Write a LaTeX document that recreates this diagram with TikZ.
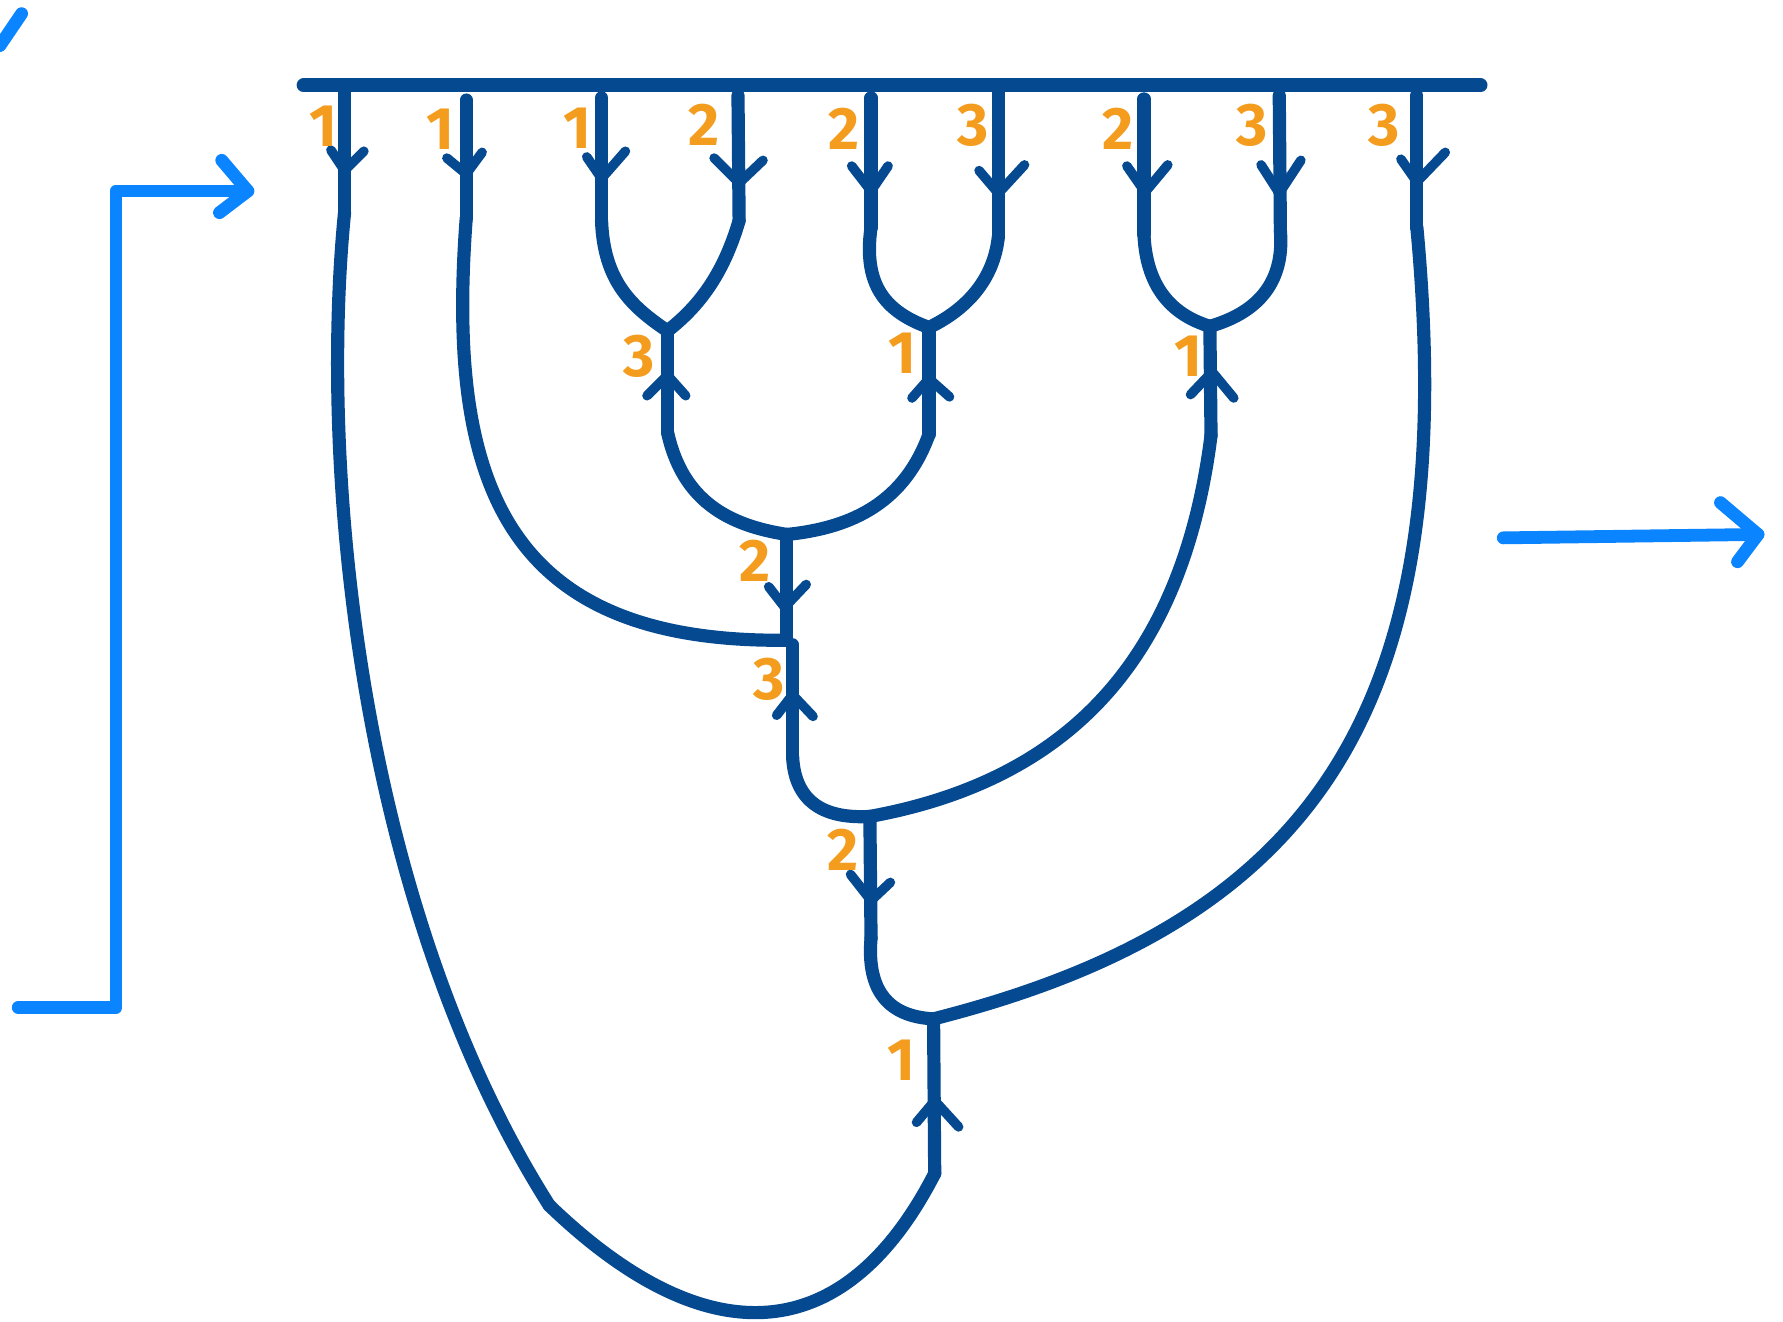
\documentclass[tikz,border=0pt]{standalone}
\usepackage{fontspec}
\setmainfont{Fira Sans}
\definecolor{dblue}{HTML}{054A91}
\definecolor{lblue}{HTML}{0A84FF}
\definecolor{lorange}{HTML}{F39C1E}
\begin{document}
\begin{tikzpicture}[x=0.1mm,y=-0.1mm,
 strand/.style={dblue,line width=3.3pt,line cap=round,line join=round},
 bar/.style={dblue,line width=3.5pt,line cap=round},
 chev/.style={dblue,line width=2.4pt,line cap=round,line join=round},
 flow/.style={lblue,line width=3.2pt,line cap=round,line join=round},
 lab/.style={lorange,font=\fontsize{15}{15}\selectfont\bfseries,inner sep=0pt}]
\useasboundingbox (0,0) rectangle (1568,1162);
% top bar
\coordinate (barL) at (267,75); \coordinate (barR) at (1302,75);
\draw[bar] (barL) -- (barR);
% top strands
\coordinate (t1) at (303,78);  \coordinate (b1) at (303,187);
\coordinate (t2) at (410,88);  \coordinate (b2) at (410,192);
\coordinate (t3) at (529,86);  \coordinate (b3) at (529,194);
\coordinate (t4) at (649,84);  \coordinate (b4) at (650,194);
\coordinate (t5) at (766,86);  \coordinate (b5) at (766,200);
\coordinate (t6) at (878,78);  \coordinate (b6) at (878,208);
\coordinate (t7) at (1006,87); \coordinate (b7) at (1006,206);
\coordinate (t8) at (1125,84); \coordinate (b8) at (1126,203);
\coordinate (t9) at (1246,84); \coordinate (b9) at (1246,200);
\foreach \i in {1,...,9} {\draw[strand] (t\i) -- (b\i);}
% chevrons on top strands (pointing down)
\draw[chev] (291,132) -- (303,150) -- (320,133);
\draw[chev] (393,139) -- (410,153) -- (424,134);
\draw[chev] (516,138) -- (529,157) -- (550,133);
\draw[chev] (628,139) -- (650,161) -- (671,141);
\draw[chev] (749,146) -- (766,168) -- (781,146);
\draw[chev] (861,150) -- (878,170) -- (901,145);
\draw[chev] (991,146) -- (1007,169) -- (1027,145);
\draw[chev] (1109,145) -- (1125,170) -- (1144,141);
\draw[chev] (1232,140) -- (1246,160) -- (1271,134);
% labels on top strands
\node[lab] (l1) at (284,111) {1};
\node[lab] (l2) at (387,114) {1};
\node[lab] (l3) at (508,113) {1};
\node[lab] (l4) at (619,110) {2};
\node[lab] (l5) at (742,113) {2};
\node[lab] (l6) at (856,110) {3};
\node[lab] (l7) at (983,113) {2};
\node[lab] (l8) at (1101,110) {3};
\node[lab] (l9) at (1217,110) {3};
% junctions
\coordinate (J1) at (587,291);  \coordinate (v1b) at (587,380);
\coordinate (J2) at (817,288);  \coordinate (v2b) at (817,382);
\coordinate (J3) at (1064,287); \coordinate (v3b) at (1065,383);
\coordinate (J5) at (692,470);  \coordinate (J4) at (692,563);
\coordinate (v4t) at (697,567); \coordinate (v4b) at (697,665);
\coordinate (J6) at (765,718);  \coordinate (v6b) at (766,825);
\coordinate (J7) at (821,896);  \coordinate (v7b) at (822,1032);
\coordinate (M1) at (483,1060);
% level 2 merges
\draw[strand] (b3) .. controls (531,248) and (556,270) .. (J1);
\draw[strand] (b4) .. controls (636,242) and (614,270) .. (J1);
\draw[strand] (J1) -- (v1b);
\draw[strand] (b5) .. controls (759,250) and (778,274) .. (J2);
\draw[strand] (b6) .. controls (874,246) and (850,272) .. (J2);
\draw[strand] (J2) -- (v2b);
\draw[strand] (b7) .. controls (1008,250) and (1028,276) .. (J3);
\draw[strand] (b8) .. controls (1130,252) and (1102,276) .. (J3);
\draw[strand] (J3) -- (v3b);
% level 3
\draw[strand] (v1b) .. controls (600,440) and (640,462) .. (J5);
\draw[strand] (v2b) .. controls (796,440) and (752,464) .. (J5);
\draw[strand] (J5) -- (J4);
\draw[strand] (b2) .. controls (393,420) and (440,566) .. (J4);
\draw[strand] (v4t) -- (v4b);
\draw[strand] (v4b) .. controls (699,708) and (728,720) .. (J6);
\draw[strand] (v3b) .. controls (1040,580) and (940,686) .. (J6);
\draw[strand] (J6) -- (v6b);
\draw[strand] (v6b) .. controls (762,872) and (782,894) .. (J7);
\draw[strand] (b9) .. controls (1285,620) and (1160,810) .. (J7);
\draw[strand] (J7) -- (v7b);
% outer loop
\draw[strand] (b1) .. controls (280,420) and (318,800) .. (M1);
\draw[strand] (M1) .. controls (620,1192) and (742,1188) .. (v7b);
% chevrons on inner strands
\draw[chev] (569,348) -- (587,330) -- (603,348);
\draw[chev] (802,350) -- (817,333) -- (835,349);
\draw[chev] (1047,347) -- (1066,327) -- (1085,350);
\draw[chev] (676,516) -- (690,534) -- (709,514);
\draw[chev] (683,629) -- (697,611) -- (715,630);
\draw[chev] (748,769) -- (766,792) -- (783,776);
\draw[chev] (806,987) -- (822,968) -- (843,991);
% inner labels
\node[lab] (k1) at (562,313) {3};
\node[lab] (k2) at (794,311) {1};
\node[lab] (k3) at (1045,313) {1};
\node[lab] (k4) at (664,493) {2};
\node[lab] (k5) at (676,597) {3};
\node[lab] (k6) at (741,747) {2};
\node[lab] (k7) at (793,932) {1};
% light blue flow arrows
\coordinate (s1) at (0,40); \coordinate (s2) at (19,12);
\draw[flow] (s1) -- (s2);
\coordinate (fa) at (16,886); \coordinate (fb) at (102,886);
\coordinate (fc) at (102,168); \coordinate (fd) at (218,168);
\draw[flow] (fa) -- (fb) -- (fc) -- (fd);
\draw[flow] (195,141) -- (fd) -- (193,187);
\coordinate (ra) at (1322,473); \coordinate (rb) at (1546,470);
\draw[flow] (ra) -- (rb);
\draw[flow] (1513,442) -- (rb) -- (1528,494);
\end{tikzpicture}
\end{document}
